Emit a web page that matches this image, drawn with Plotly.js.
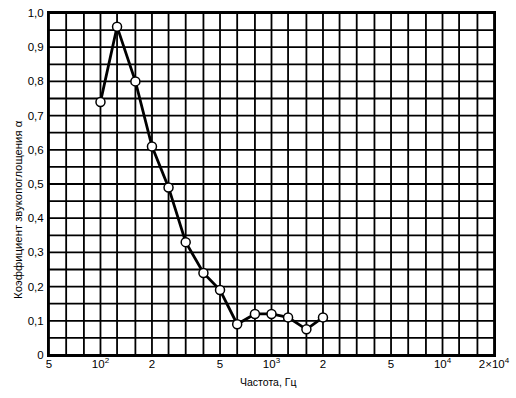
<!DOCTYPE html>
<html><head><meta charset="utf-8">
<script src="https://cdn.plot.ly/plotly-3.0.1.min.js"></script>
<style>html,body{margin:0;padding:0;background:#fff}#chart{width:516px;height:398px}</style>
</head><body><div id="chart"></div>
<script>
const freqs = [100, 125, 160, 200, 250, 315, 400, 500, 630, 800, 1000, 1250, 1600, 2000];
const alpha = [0.74, 0.96, 0.80, 0.61, 0.49, 0.33, 0.24, 0.19, 0.09, 0.12, 0.12, 0.11, 0.075, 0.11];
const gridFreqs = [50, 63, 80, 100, 125, 160, 200, 250, 315, 400, 500, 630, 800, 1000, 1250, 1600, 2000, 2500, 3150, 4000, 5000, 6300, 8000, 10000, 12500, 16000, 20000];
const labelFreqs = [50, 100, 200, 500, 1000, 2000, 5000, 10000, 20000];
const labelTexts = ["5", "10<sup>2</sup>", "2", "5", "10<sup>3</sup>", "2", "5", "10<sup>4</sup>", "2×10<sup>4</sup>"];
const yTicks = [0, 0.1, 0.2, 0.3, 0.4, 0.5, 0.6, 0.7, 0.8, 0.9, 1.0];
const yTickTexts = ["0", "0,1", "0,2", "0,3", "0,4", "0,5", "0,6", "0,7", "0,8", "0,9", "1,0"];
const yGrid = [];
for (let i = 0; i <= 20; i++) yGrid.push(+(i * 0.05).toFixed(2));

const fam = '"Liberation Sans", Arial, sans-serif';

const shapes = [];
gridFreqs.forEach(f => shapes.push({type:'line', xref:'x', yref:'paper', x0:f, x1:f, y0:0, y1:1, line:{color:'#000', width:1.8}, layer:'below'}));
yGrid.forEach(v => shapes.push({type:'line', xref:'paper', yref:'y', x0:0, x1:1, y0:v, y1:v, line:{color:'#000', width:1.8}, layer:'below'}));

const trace = {
  x: freqs, y: alpha, type: 'scatter', mode: 'lines+markers',
  line: {color: '#000', width: 2.8},
  marker: {symbol: 'circle', size: 9, color: '#fff', line: {color: '#000', width: 1.5}},
  hoverinfo: 'skip'
};

const layout = {
  width: 516, height: 398,
  margin: {l: 49, r: 22, t: 13, b: 43},
  paper_bgcolor: '#fff', plot_bgcolor: '#fff',
  showlegend: false,
  font: {family: fam, color: '#000', size: 11.5},
  xaxis: {
    type: 'log', range: [Math.log10(50), Math.log10(20000)],
    tickmode: 'array', tickvals: labelFreqs, ticktext: labelTexts,
    showgrid: false, zeroline: false, ticks: '',
    showline: true, linecolor: '#000', linewidth: 2, mirror: true,
    tickfont: {size: 11.5, family: fam}, tickangle: 0, ticklabelstandoff: -3
  },
  yaxis: {
    range: [0, 1.0], tickmode: 'array', tickvals: yTicks, ticktext: yTickTexts,
    showgrid: false, zeroline: false, ticks: '',
    showline: true, linecolor: '#000', linewidth: 2, mirror: true,
    tickfont: {size: 11.5, family: fam}, ticklabelstandoff: 1
  },
  annotations: [
    {text: 'Частота, Гц', xref: 'paper', yref: 'paper', x: 0.492, y: -0.078,
     xanchor: 'center', yanchor: 'middle', showarrow: false,
     font: {size: 10.5, family: fam}},
    {text: 'Коэффициент звукопоглощения α', xref: 'paper', yref: 'paper', x: -0.0697, y: 0.427,
     xanchor: 'center', yanchor: 'middle', showarrow: false, textangle: -90,
     font: {size: 11.3, family: fam}}
  ],
  shapes: shapes
};

Plotly.newPlot('chart', [trace], layout, {displayModeBar: false, staticPlot: true});
</script></body></html>
